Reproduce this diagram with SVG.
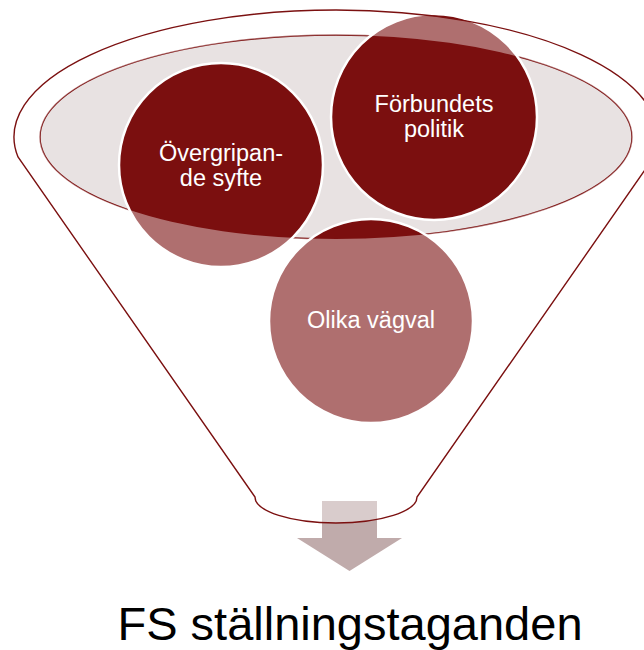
<svg xmlns="http://www.w3.org/2000/svg" width="644" height="650" viewBox="0 0 644 650">
  <style>
    .circ { fill: #7B0F0F; stroke: #FFFFFF; stroke-width: 2.5; }
    .lbl { font-family: "Liberation Sans", Arial, sans-serif; font-size: 23.5px; fill: #FFFFFF; text-anchor: middle; }
    .title { font-family: "Liberation Sans", Arial, sans-serif; font-size: 47px; fill: #000000; text-anchor: middle; }
    .outline { fill: none; stroke: #7B1010; stroke-width: 1.4; }
  </style>
  <rect width="644" height="650" fill="#FFFFFF"/>
  <g id="funnel-top">
    <ellipse cx="336" cy="137" rx="296" ry="102" fill="#E8E2E2" stroke="#7B1010" stroke-width="1.4"/>
  </g>
  <g id="node-overgripande">
    <circle class="circ" cx="221" cy="165" r="102"/>
  </g>
  <g id="node-forbundets">
    <circle class="circ" cx="434" cy="117" r="103"/>
  </g>
  <g id="node-olika">
    <circle class="circ" cx="371" cy="321" r="102"/>
  </g>
  <g id="connectors">
    <path d="M322,501 H377 V538 H402 L349.5,571 L297,538 H322 Z" fill="#C0ABAB"/>
  </g>
  <g id="funnel">
    <path d="M18,157 A322,127 0 1 1 654,157 L417,497 A81,26 0 0 1 255,497 Z M40,137 A296,102 0 1 0 632,137 A296,102 0 1 0 40,137 Z" fill="#FFFFFF" fill-opacity="0.4" fill-rule="evenodd"/>
    <path class="outline" d="M18,157 A322,127 0 1 1 654,157 L417,497 A81,26 0 0 1 255,497 Z"/>
  </g>
  <g id="labels">
    <text class="lbl" x="221" y="161">Övergripan-</text>
    <text class="lbl" x="221" y="186">de syfte</text>
    <text class="lbl" x="434" y="112">Förbundets</text>
    <text class="lbl" x="434" y="137">politik</text>
    <text class="lbl" x="371" y="328">Olika vägval</text>
    <text class="title" x="350" y="640">FS ställningstaganden</text>
  </g>
</svg>
